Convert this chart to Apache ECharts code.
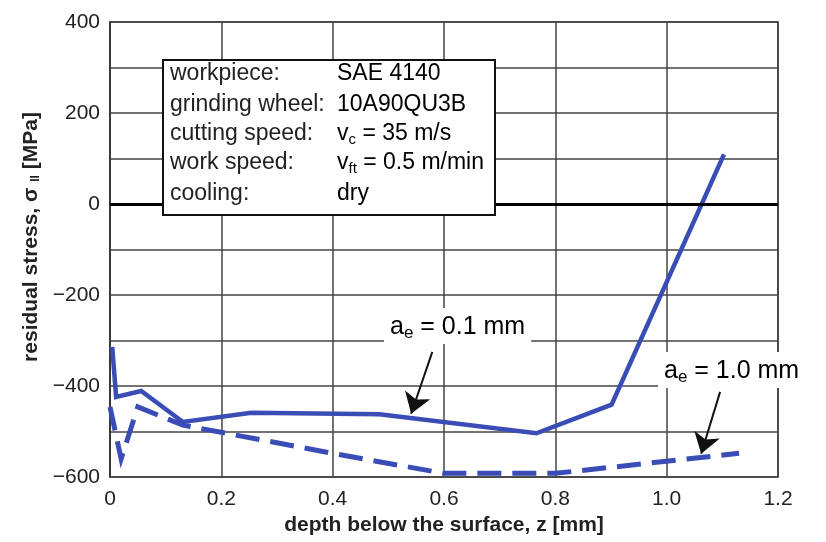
<!DOCTYPE html>
<html>
<head>
<meta charset="utf-8">
<script src="https://cdn.jsdelivr.net/npm/echarts@6/dist/echarts.min.js"></script>
<style>
  html, body { margin: 0; padding: 0; background: #fff; }
  #chart { width: 826px; height: 542px; }
</style>
</head>
<body>
<div id="chart"></div>
<script>
// data: [depth z (mm), residual stress (MPa)]
const ae01 = [
  [0.004, -314], [0.011, -424], [0.056, -411], [0.131, -479],
  [0.254, -459], [0.484, -462], [0.766, -504], [0.901, -441], [1.103, 109]
];
const ae10 = [
  [0.0, -446], [0.02, -560], [0.05, -446], [0.131, -486],
  [0.4, -548], [0.6, -592], [0.8, -592], [1.13, -548]
];
const xTicks = [0, 0.2, 0.4, 0.6, 0.8, 1.0, 1.2];
const yTicks = [-600, -400, -200, 0, 200, 400];
const infoRows = [
  ['workpiece:', 'SAE 4140'],
  ['grinding wheel:', '10A90QU3B'],
  ['cutting speed:', '{t|v}{s|c}{t| = 35 m/s}'],
  ['work speed:', '{t|v}{s|ft}{t| = 0.5 m/min}'],
  ['cooling:', 'dry']
];

const font = '"Liberation Sans", Arial, sans-serif';
const blue = '#3a4cb5';
const chart = echarts.init(document.getElementById('chart'));

// info box (pixel positioned annotation)
const rowY = [74, 105, 134, 163, 194];
const boxChildren = [{
  type: 'rect', z: 20,
  shape: { x: 163, y: 60, width: 332, height: 155 },
  style: { fill: '#fff', stroke: '#111', lineWidth: 2 }
}];
infoRows.forEach((r, i) => {
  boxChildren.push({
    type: 'text', x: 170, y: rowY[i], z: 21,
    style: { text: r[0], font: '23px ' + font, fill: '#222', textVerticalAlign: 'middle' }
  });
  boxChildren.push({
    type: 'text', x: 337, y: rowY[i], z: 21,
    style: {
      text: r[1].indexOf('{') === 0 ? r[1] : '{t|' + r[1] + '}',
      textVerticalAlign: 'middle',
      rich: {
        t: { fontSize: 23, fontFamily: font, color: '#222' },
        s: { fontSize: 15, fontFamily: font, color: '#222', padding: [12, 0, 0, 0] }
      }
    }
  });
});

const labelRich = {
  t: { fontSize: 25, fontFamily: font, color: '#222' },
  s: { fontSize: 17, fontFamily: font, color: '#222', padding: [13, 0, 0, 0] }
};

chart.setOption({
  animation: false,
  grid: { left: 110, right: 48, top: 22, bottom: 65, show: true, borderColor: '#333', borderWidth: 1.5 },
  xAxis: {
    type: 'value', min: 0, max: 1.2, interval: 0.2,
    name: 'depth below the surface, z [mm]',
    nameLocation: 'middle', nameGap: 35,
    nameTextStyle: { fontFamily: font, fontWeight: 'bold', fontSize: 21, color: '#222' },
    axisLine: { lineStyle: { color: '#333', width: 1.5 } },
    axisTick: { show: false },
    axisLabel: {
      margin: 12, fontFamily: font, fontSize: 21, color: '#222',
      formatter: v => {
        const t = xTicks.find(k => Math.abs(k - v) < 1e-6);
        return t === 0 ? '0' : t.toFixed(1);
      }
    },
    splitLine: { lineStyle: { color: '#444', width: 1.5 } }
  },
  yAxis: {
    type: 'value', min: -600, max: 400, interval: 100,
    name: '{b|residual stress, σ }{s|II}{b| [MPa]}',
    nameLocation: 'middle', nameGap: 66,
    nameTextStyle: {
      padding: [0, 0, 0, 25],
      rich: {
        b: { fontFamily: font, fontWeight: 'bold', fontSize: 21, color: '#222' },
        s: { fontFamily: font, fontWeight: 'bold', fontSize: 12, color: '#222', padding: [9, 0, 0, 0] }
      }
    },
    axisLine: { show: true, lineStyle: { color: '#333', width: 1.5 } },
    axisTick: { show: false },
    axisLabel: {
      margin: 10, fontFamily: font, fontSize: 21, color: '#222',
      formatter: v => yTicks.indexOf(v) < 0 ? '' : (v < 0 ? '\u2212' + (-v) : String(v))
    },
    splitLine: { lineStyle: { color: '#444', width: 1.5 } }
  },
  series: [
    {
      name: 'ae = 0.1 mm', type: 'line', data: ae01, symbol: 'none',
      lineStyle: { color: blue, width: 4.5, join: 'miter' },
      markLine: {
        silent: true, symbol: 'none', label: { show: false },
        lineStyle: { color: '#000', width: 3, type: 'solid' },
        data: [{ yAxis: 0 }]
      },
      z: 3
    },
    {
      name: 'ae = 1.0 mm', type: 'line', data: ae10, symbol: 'none',
      lineStyle: { color: blue, width: 5, type: [24, 11], join: 'miter' },
      z: 3
    },
    {
      // arrows pointing at the curves
      type: 'lines', coordinateSystem: 'cartesian2d', silent: true, z: 5,
      symbol: ['none', 'arrow'], symbolSize: [13, 20],
      lineStyle: { color: '#111', width: 2, opacity: 1 },
      data: [
        { coords: [[0.579, -325], [0.541, -461]] },
        { coords: [[1.096, -413], [1.062, -549]] }
      ]
    }
  ],
  graphic: [
    { type: 'group', children: boxChildren },
    {
      type: 'text', x: 384, y: 308, z: 20,
      style: {
        text: '{t|a}{s|e}{t| = 0.1 mm}', rich: labelRich,
        backgroundColor: '#fff', padding: [4, 6, 2, 6]
      }
    },
    {
      type: 'text', x: 658, y: 352, z: 20,
      style: {
        text: '{t|a}{s|e}{t| = 1.0 mm}', rich: labelRich,
        backgroundColor: '#fff', padding: [4, 6, 2, 6]
      }
    }
  ]
});
</script>
</body>
</html>
